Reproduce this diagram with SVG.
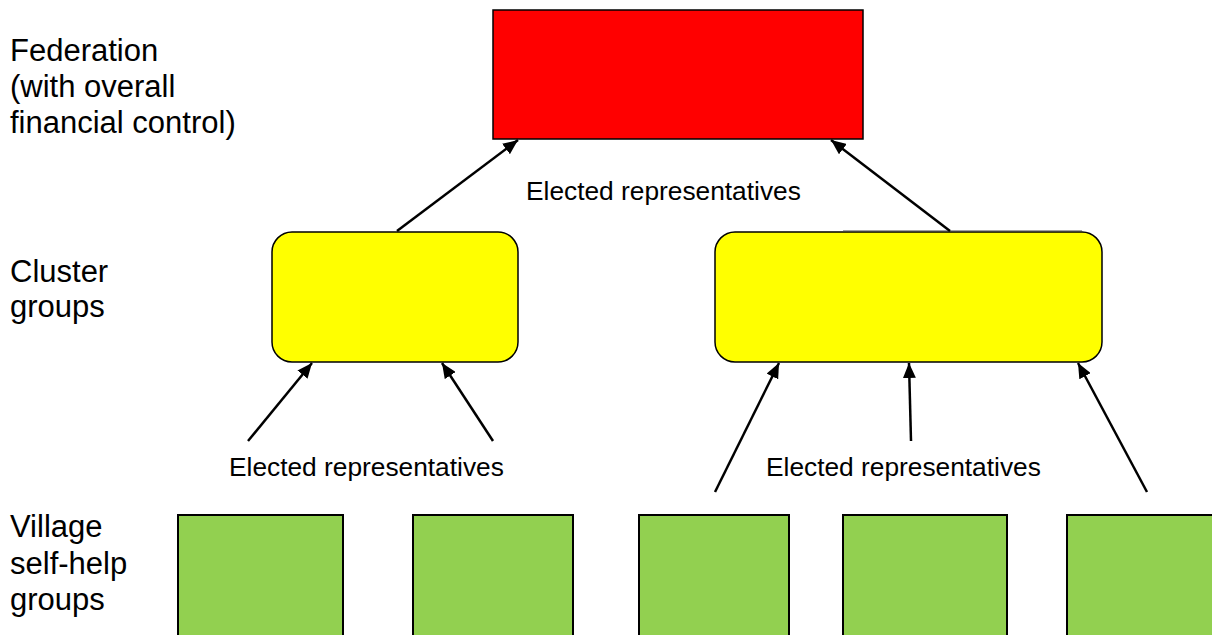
<svg xmlns="http://www.w3.org/2000/svg" width="1212" height="635" viewBox="0 0 1212 635">
<style>
.lbl{font-family:"Liberation Sans",Arial,sans-serif;font-size:31px;fill:#000}
.er{font-family:"Liberation Sans",Arial,sans-serif;font-size:26.3px;fill:#000}
.village{fill:#92D050;stroke:#000;stroke-width:2}
.cluster{fill:#FFFF00;stroke:#000;stroke-width:1.5}
.conn line{stroke:#000;stroke-width:2.5;marker-end:url(#ah)}
</style>
<defs>
<marker id="ah" markerWidth="15" markerHeight="13" refX="15" refY="6.5" orient="auto" markerUnits="userSpaceOnUse" viewBox="0 0 15 13">
<path d="M0,0 L15,6.5 L0,13 z" fill="#000"/>
</marker>
</defs>
<rect width="1212" height="635" fill="#fff"/>
<g id="labels">
<text class="lbl" x="10" y="61">Federation</text>
<text class="lbl" x="10" y="97">(with overall</text>
<text class="lbl" x="10" y="133">financial control)</text>
<text class="lbl" x="10" y="282">Cluster</text>
<text class="lbl" x="10" y="317">groups</text>
<text class="lbl" x="10" y="537">Village</text>
<text class="lbl" x="10" y="574">self-help</text>
<text class="lbl" x="10" y="610">groups</text>
</g>
<g id="federation"><rect x="493" y="10" width="370" height="129" fill="#FF0000" stroke="#000" stroke-width="1.5"/></g>
<g id="cluster1"><rect class="cluster" x="272" y="232" width="246" height="130" rx="20" ry="20"/></g>
<g id="cluster2"><rect class="cluster" x="715" y="232" width="387" height="130" rx="20" ry="20"/><line x1="843" y1="231" x2="1082" y2="231" stroke="#444" stroke-width="1"/></g>
<g id="village1"><rect class="village" x="178" y="515" width="165" height="130"/></g>
<g id="village2"><rect class="village" x="413" y="515" width="160" height="130"/></g>
<g id="village3"><rect class="village" x="639" y="515" width="150" height="130"/></g>
<g id="village4"><rect class="village" x="843" y="515" width="164" height="130"/></g>
<g id="village5"><rect class="village" x="1067" y="515" width="170" height="130"/></g>
<g id="connectors" class="conn">
<line x1="397" y1="231" x2="518" y2="140"/>
<line x1="950" y1="231" x2="831" y2="140"/>
<line x1="248" y1="441" x2="312" y2="363"/>
<line x1="493" y1="441" x2="442" y2="363"/>
<line x1="715" y1="492" x2="779" y2="363"/>
<line x1="911" y1="441" x2="909" y2="363"/>
<line x1="1147" y1="492" x2="1078" y2="363"/>
</g>
<g id="edge-labels">
<text class="er" x="526" y="200">Elected representatives</text>
<text class="er" x="229" y="476">Elected representatives</text>
<text class="er" x="766" y="476">Elected representatives</text>
</g>
</svg>
